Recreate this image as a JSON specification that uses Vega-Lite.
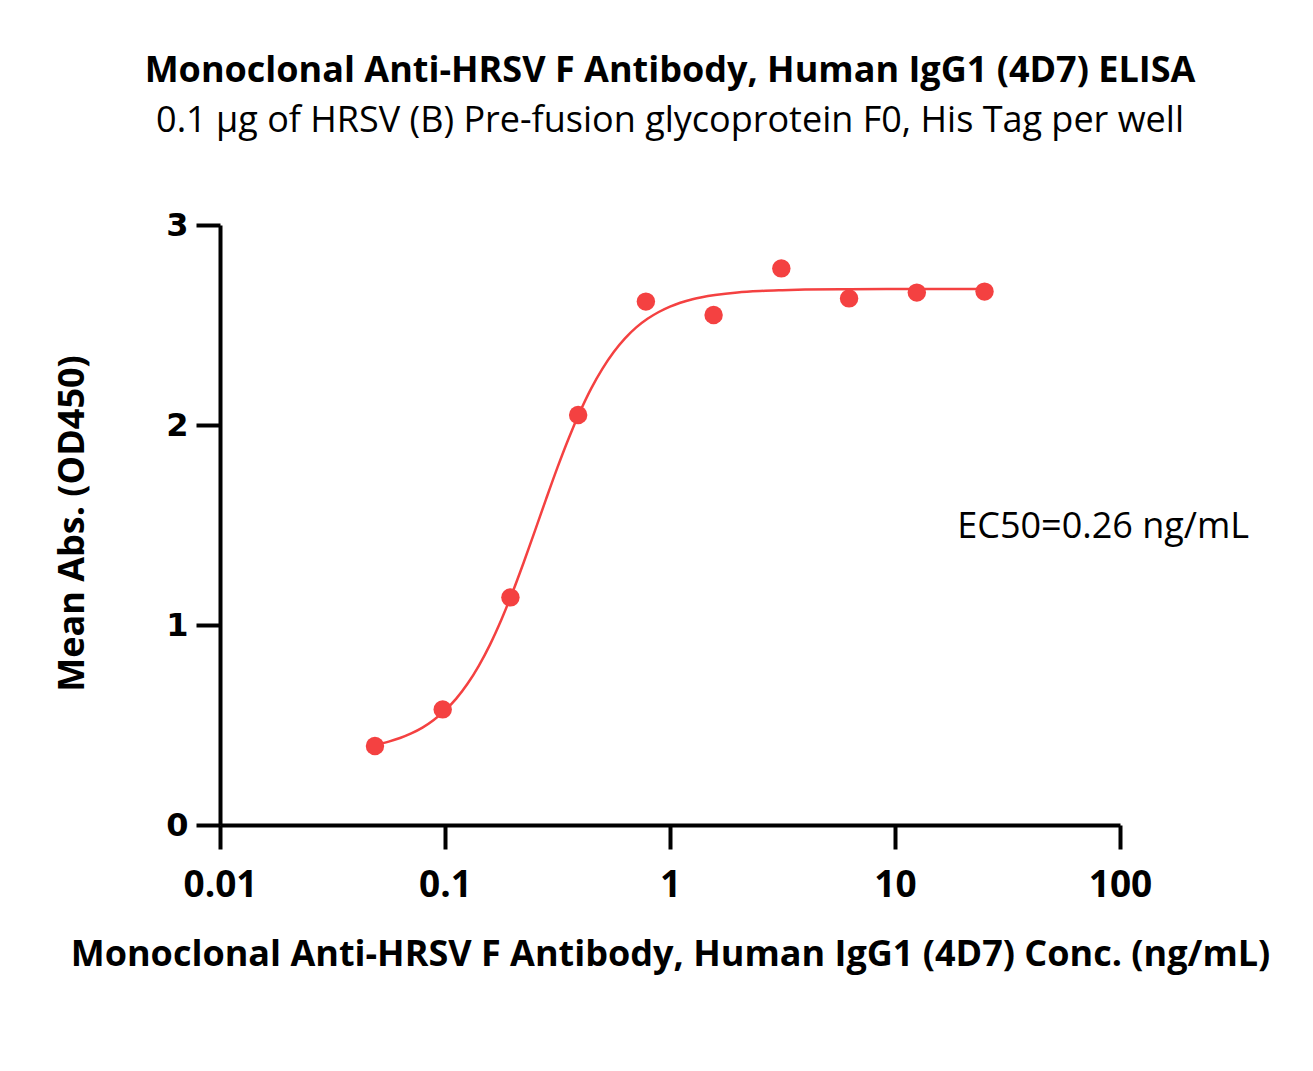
{
  "$schema": "https://vega.github.io/schema/vega-lite/v6.json",
  "width": 900,
  "height": 600,
  "autosize": "none",
  "padding": {"left": 220, "top": 225, "right": 193, "bottom": 246},
  "background": "white",
  "config": {"view": {"stroke": null}},
  "title": {
    "text": "Monoclonal Anti-HRSV F Antibody, Human IgG1 (4D7) ELISA",
    "subtitle": "0.1 μg of HRSV (B) Pre-fusion glycoprotein F0, His Tag per well",
    "font": "Open Sans",
    "fontSize": 36,
    "fontWeight": "bold",
    "color": "black",
    "subtitleFont": "Open Sans",
    "subtitleFontSize": 36,
    "subtitleColor": "black",
    "subtitlePadding": 14,
    "anchor": "middle",
    "frame": "group",
    "offset": 69
  },
  "datasets": {
    "points": [
      {"conc": 0.048828, "od": 0.395},
      {"conc": 0.097656, "od": 0.578},
      {"conc": 0.195313, "od": 1.138},
      {"conc": 0.390625, "od": 2.05},
      {"conc": 0.78125, "od": 2.617},
      {"conc": 1.5625, "od": 2.55},
      {"conc": 3.125, "od": 2.783},
      {"conc": 6.25, "od": 2.633},
      {"conc": 12.5, "od": 2.662},
      {"conc": 25, "od": 2.667}
    ],
    "curve": [
      {"conc": 0.0488, "od": 0.401},
      {"conc": 0.0562, "od": 0.417},
      {"conc": 0.0631, "od": 0.435},
      {"conc": 0.0708, "od": 0.458},
      {"conc": 0.0794, "od": 0.487},
      {"conc": 0.0891, "od": 0.525},
      {"conc": 0.1, "od": 0.573},
      {"conc": 0.1122, "od": 0.632},
      {"conc": 0.1259, "od": 0.706},
      {"conc": 0.1413, "od": 0.796},
      {"conc": 0.1585, "od": 0.902},
      {"conc": 0.1778, "od": 1.025},
      {"conc": 0.1995, "od": 1.163},
      {"conc": 0.2239, "od": 1.314},
      {"conc": 0.2512, "od": 1.472},
      {"conc": 0.2818, "od": 1.632},
      {"conc": 0.3162, "od": 1.788},
      {"conc": 0.3548, "od": 1.934},
      {"conc": 0.3981, "od": 2.066},
      {"conc": 0.4467, "od": 2.183},
      {"conc": 0.5012, "od": 2.282},
      {"conc": 0.5623, "od": 2.365},
      {"conc": 0.631, "od": 2.433},
      {"conc": 0.7079, "od": 2.488},
      {"conc": 0.7943, "od": 2.531},
      {"conc": 0.8913, "od": 2.565},
      {"conc": 1.0, "od": 2.592},
      {"conc": 1.259, "od": 2.629},
      {"conc": 1.585, "od": 2.65},
      {"conc": 1.995, "od": 2.663},
      {"conc": 2.512, "od": 2.67},
      {"conc": 3.162, "od": 2.674},
      {"conc": 3.981, "od": 2.677},
      {"conc": 6.31, "od": 2.679},
      {"conc": 10, "od": 2.68},
      {"conc": 15.85, "od": 2.68},
      {"conc": 25, "od": 2.68}
    ],
    "note": [
      {"conc": 18.9, "od": 1.49, "label": "EC50=0.26 ng/mL"}
    ]
  },
  "encoding": {
    "x": {
      "field": "conc",
      "type": "quantitative",
      "scale": {"type": "log", "domain": [0.01, 100], "nice": false},
      "axis": {
        "title": "Monoclonal Anti-HRSV F Antibody, Human IgG1 (4D7) Conc. (ng/mL)",
        "values": [0.01, 0.1, 1, 10, 100],
        "format": "~g",
        "grid": false,
        "domainColor": "black",
        "domainWidth": 4,
        "tickColor": "black",
        "tickWidth": 4,
        "tickSize": 24,
        "labelFont": "Open Sans",
        "labelFontSize": 37,
        "labelFontWeight": "bold",
        "labelColor": "black",
        "labelPadding": 18,
        "labelFlush": false,
        "titleFont": "Open Sans",
        "titleFontSize": 36,
        "titleFontWeight": "bold",
        "titleColor": "black",
        "titleBaseline": "alphabetic",
        "titleY": 140
      }
    },
    "y": {
      "field": "od",
      "type": "quantitative",
      "scale": {"domain": [0, 3], "nice": false, "zero": true},
      "axis": {
        "title": "Mean Abs. (OD450)",
        "values": [0, 1, 2, 3],
        "grid": false,
        "domainColor": "black",
        "domainWidth": 4,
        "tickColor": "black",
        "tickWidth": 4,
        "tickSize": 24,
        "labelFont": "DejaVu Sans",
        "labelFontSize": 32,
        "labelFontWeight": "bold",
        "labelColor": "black",
        "labelPadding": 8,
        "labelFlush": false,
        "titleFont": "Open Sans",
        "titleFontSize": 36,
        "titleFontWeight": "bold",
        "titleColor": "black",
        "titleBaseline": "middle",
        "titleX": -148,
        "titleY": 298
      }
    }
  },
  "layer": [
    {
      "data": {"name": "curve"},
      "mark": {"type": "line", "color": "#F44141", "strokeWidth": 2.5, "interpolate": "monotone"}
    },
    {
      "data": {"name": "points"},
      "mark": {"type": "circle", "color": "#F44141", "opacity": 1, "size": 340}
    },
    {
      "data": {"name": "note"},
      "mark": {"type": "text", "align": "left", "baseline": "middle", "font": "Open Sans", "fontSize": 36, "color": "black"},
      "encoding": {"text": {"field": "label"}}
    }
  ]
}
